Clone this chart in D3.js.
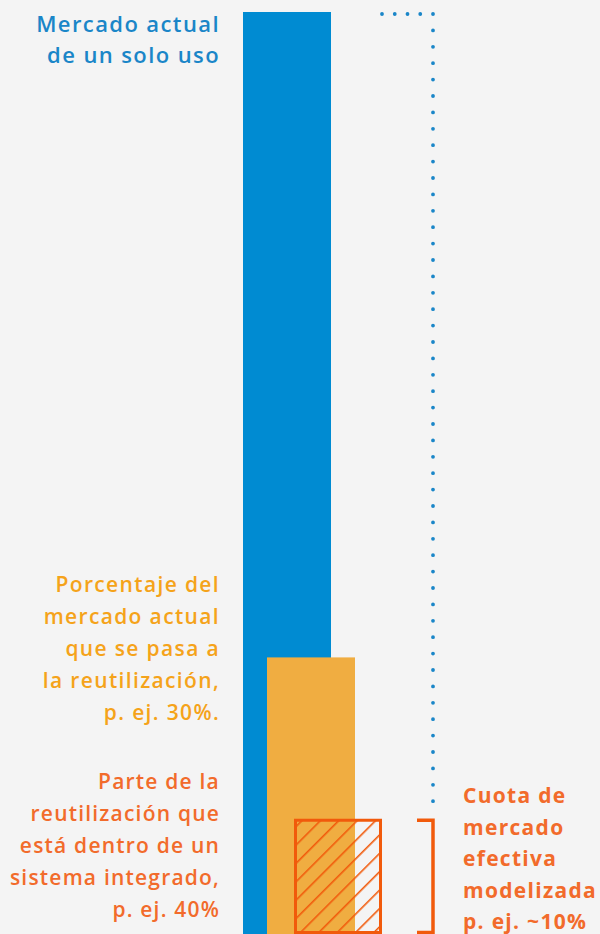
<!DOCTYPE html>
<html>
<head>
<meta charset="utf-8">
<script src="https://cdn.jsdelivr.net/npm/d3@7"></script>
<style>
  body { margin: 0; background: #f4f4f4; }
  svg { display: block; }
</style>
</head>
<body>
<script>
let width = 600;
let height = 934;

// Données : hauteur relative des barres (marché actuel = 100)
let barNames = ["mercado", "reutilizacion", "integrado"];
let barValues = [100, 30, 12.5];

// Les textes
let labelMercado = ["Mercado actual", "de un solo uso"];
let labelReuso = ["Porcentaje del", "mercado actual", "que se pasa a", "la reutilización,", "p. ej. 30%."];
let labelIntegrado = ["Parte de la", "reutilización que", "está dentro de un", "sistema integrado,", "p. ej. 40%"];
let labelCuota = ["Cuota de", "mercado", "efectiva", "modelizada", "p. ej. ~10%"];

let bleu = "#008bd2";
let bleuTexte = "#1a86c8";
let orange = "#f0ad41";
let orangeTexte = "#f5a31a";
let rouge = "#f15a0b";
let rougeTexte = "#f26b2b";

let svg = d3.select("body").append("svg")
    .attr("width", width)
    .attr("height", height);

svg.append("rect").attr("width", width).attr("height", height).attr("fill", "#f4f4f4");

// Motif hachuré
svg.append("defs").append("pattern")
    .attr("id", "hachures")
    .attr("patternUnits", "userSpaceOnUse")
    .attr("width", 13)
    .attr("height", 13)
    .attr("patternTransform", "rotate(45)")
    .append("line")
    .attr("x1", 0).attr("y1", 0)
    .attr("x2", 0).attr("y2", 13)
    .attr("stroke", rouge)
    .attr("stroke-width", 3.2);

let y = d3.scaleLinear().domain([0, 100]).range([934, 12]);
let x = d3.scaleLinear().domain([0, 2]).range([243, 294]);
let barWidth = 88;

// Barres pleines
svg.selectAll(".barre")
    .data(barValues.slice(0, 2))
    .enter()
    .append("rect")
    .attr("class", "barre")
    .attr("x", (d, i) => x(i) - (i == 1 ? 1.5 : 0))
    .attr("y", d => y(d))
    .attr("width", barWidth)
    .attr("height", d => y(0) - y(d))
    .attr("fill", (d, i) => i == 0 ? bleu : orange);

// Barre hachurée
svg.append("rect")
    .attr("x", x(2) + 1.5)
    .attr("y", y(barValues[2]) + 1.5)
    .attr("width", barWidth - 3)
    .attr("height", y(0) - y(barValues[2]) - 3)
    .attr("fill", "url(#hachures)")
    .attr("stroke", rouge)
    .attr("stroke-width", 3);

// Ligne pointillée
let xPoint = 433;
svg.append("line")
    .attr("x1", 382).attr("x2", xPoint)
    .attr("y1", y(100) + 2).attr("y2", y(100) + 2)
    .attr("stroke", bleuTexte)
    .attr("stroke-width", 3.8)
    .attr("stroke-linecap", "round")
    .attr("stroke-dasharray", "0 12.75");
svg.append("line")
    .attr("x1", xPoint).attr("x2", xPoint)
    .attr("y1", y(100) + 2).attr("y2", y(barValues[2]) - 2)
    .attr("stroke", bleuTexte)
    .attr("stroke-width", 3.8)
    .attr("stroke-linecap", "round")
    .attr("stroke-dasharray", "0 16.4");

// Crochet
let yHaut = y(barValues[2]) + 1.5;
svg.append("path")
    .attr("d", "M417," + yHaut + "H" + xPoint + "V" + (y(0) - 1.5) + "H417")
    .attr("fill", "none")
    .attr("stroke", rouge)
    .attr("stroke-width", 3.5);

// Textes
function bloc(lignes, xPos, yPos, pas, couleur, poids, ancre, taille, espace) {
    svg.append("g").selectAll("text")
        .data(lignes)
        .enter()
        .append("text")
        .attr("x", xPos)
        .attr("y", (d, i) => yPos + i * pas)
        .attr("text-anchor", ancre)
        .attr("fill", couleur)
        .style("font-family", "'Open Sans', sans-serif")
        .style("font-weight", poids)
        .style("font-size", taille + "px")
        .style("letter-spacing", espace + "px")
        .text(d => d);
}

bloc(labelMercado, 220, 32, 30.5, bleuTexte, 600, "end", 22, 1.4);
bloc(labelReuso, 220, 592, 32, orangeTexte, 600, "end", 21, 1.35);
bloc(labelIntegrado, 220, 789, 32, rougeTexte, 600, "end", 21, 1.2);
bloc(labelCuota, 463, 803, 31.5, rougeTexte, 700, "start", 21, 1.3);
</script>
</body>
</html>
